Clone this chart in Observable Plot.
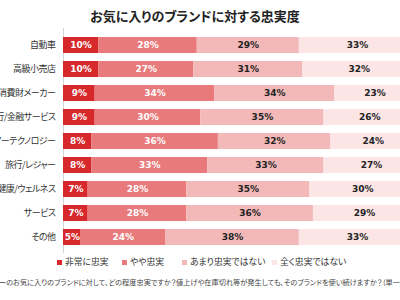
<!DOCTYPE html>
<html lang="ja">
<head>
<meta charset="utf-8">
<script src="https://cdn.jsdelivr.net/npm/d3@7"></script>
<script src="https://cdn.jsdelivr.net/npm/@observablehq/plot@0.6"></script>
<style>
  html, body { margin: 0; padding: 0; background: #fff; }
  body { width: 400px; height: 300px; overflow: hidden; position: relative;
         font-family: "Noto Sans CJK JP", "Noto Sans", sans-serif; }
  #title { position: absolute; left: 0; top: 7px; width: 390px; text-align: center;
           font-size: 13px; font-weight: bold; color: #222; line-height: 18px;
           font-feature-settings: "palt"; }
  #chart { position: absolute; left: 0; top: 0; }
  #chart svg { max-width: none; overflow: visible; }
  #legend { position: absolute; left: 0; top: 255px; width: 400px; height: 14px;
            font-size: 8.8px; color: #333; line-height: 14px; font-feature-settings: "palt"; }
  #legend .item { position: absolute; top: 0; display: flex; align-items: center; gap: 3px; white-space: nowrap; }
  #legend .sw { width: 5px; height: 5px; display: inline-block; }
  #note { position: absolute; left: -1px; top: 277px; white-space: nowrap;
          font-size: 7.2px; color: #444; line-height: 10px; font-feature-settings: "palt"; }
</style>
</head>
<body>
<div id="title">お気に入りのブランドに対する忠実度</div>
<div id="chart"></div>
<div id="legend"></div>
<div id="note">ーのお気に入りのブランドに対して、どの程度忠実ですか？値上げや在庫切れ等が発生しても、そのブランドを使い続けますか？（単一回答）</div>
<script>
// Brand categories, top to bottom
const categories = [
  "自動車", "高級小売店", "消費財メーカー", "銀行/金融サービス",
  "コンシューマーテクノロジー", "旅行/レジャー", "健康/ウェルネス", "サービス", "その他"
];
// Loyalty levels and their shares (%) per category
const levels = ["非常に忠実", "やや忠実", "あまり忠実ではない", "全く忠実ではない"];
const veryLoyal     = [10, 10,  9,  9,  8,  8,  7,  7,  5];
const somewhatLoyal = [28, 27, 34, 30, 36, 33, 28, 28, 24];
const notVeryLoyal  = [29, 31, 34, 35, 32, 33, 35, 36, 38];
const notLoyal      = [33, 32, 23, 26, 24, 27, 30, 29, 33];
const levelColors = ["#d7282c", "#e87a7b", "#f3b8b8", "#fce5e5"];
const labelColors = ["#ffffff", "#ffffff", "#222222", "#222222"];
// Legend entry offsets (px from the left edge)
const legendX = [57, 122, 182, 272];

const series = [veryLoyal, somewhatLoyal, notVeryLoyal, notLoyal];
const rows = [];
categories.forEach((c, i) => {
  series.forEach((s, k) => rows.push({category: c, level: levels[k], li: k, value: s[i]}));
});

const stack = (opts) => Plot.stackX({x: "value", y: "category", z: "level", ...opts});
const labelFont = "DejaVu Sans, Verdana, sans-serif";

const chart = Plot.plot({
  width: 415,
  height: 253,
  marginLeft: 63,
  marginRight: 0,
  marginTop: 28,
  marginBottom: 0,
  style: {fontFamily: "Noto Sans CJK JP, sans-serif", background: "transparent"},
  x: {domain: [0, 100], axis: null},
  y: {domain: categories, padding: 0.336, label: null},
  color: {type: "identity"},
  marks: [
    Plot.ruleX([0], {stroke: "#d4d4d4", strokeWidth: 1}),
    Plot.barX(rows, stack({fill: d => levelColors[d.li]})),
    Plot.text(rows, stack({
      text: d => d.value + "%",
      fill: d => labelColors[d.li],
      fontWeight: "bold", fontSize: 9, fontFamily: labelFont
    })),
    Plot.axisY({tickSize: 0, tickPadding: 8, fontSize: 9, fill: "#333",
                fontFamily: "Noto Sans CJK JP, sans-serif"})
  ]
});
chart.querySelectorAll("text").forEach(t => t.style.fontFeatureSettings = '"palt"');
// tighter tracking for the category names
chart.querySelectorAll("[aria-label='y-axis tick label'] text").forEach(t => t.style.letterSpacing = "-0.5px");
document.getElementById("chart").append(chart);

// Legend
const legend = d3.select("#legend");
levels.forEach((lv, k) => {
  const it = legend.append("span").attr("class", "item").style("left", legendX[k] + "px");
  it.append("span").attr("class", "sw").style("background", levelColors[k]);
  it.append("span").text(lv);
});
</script>
</body>
</html>
